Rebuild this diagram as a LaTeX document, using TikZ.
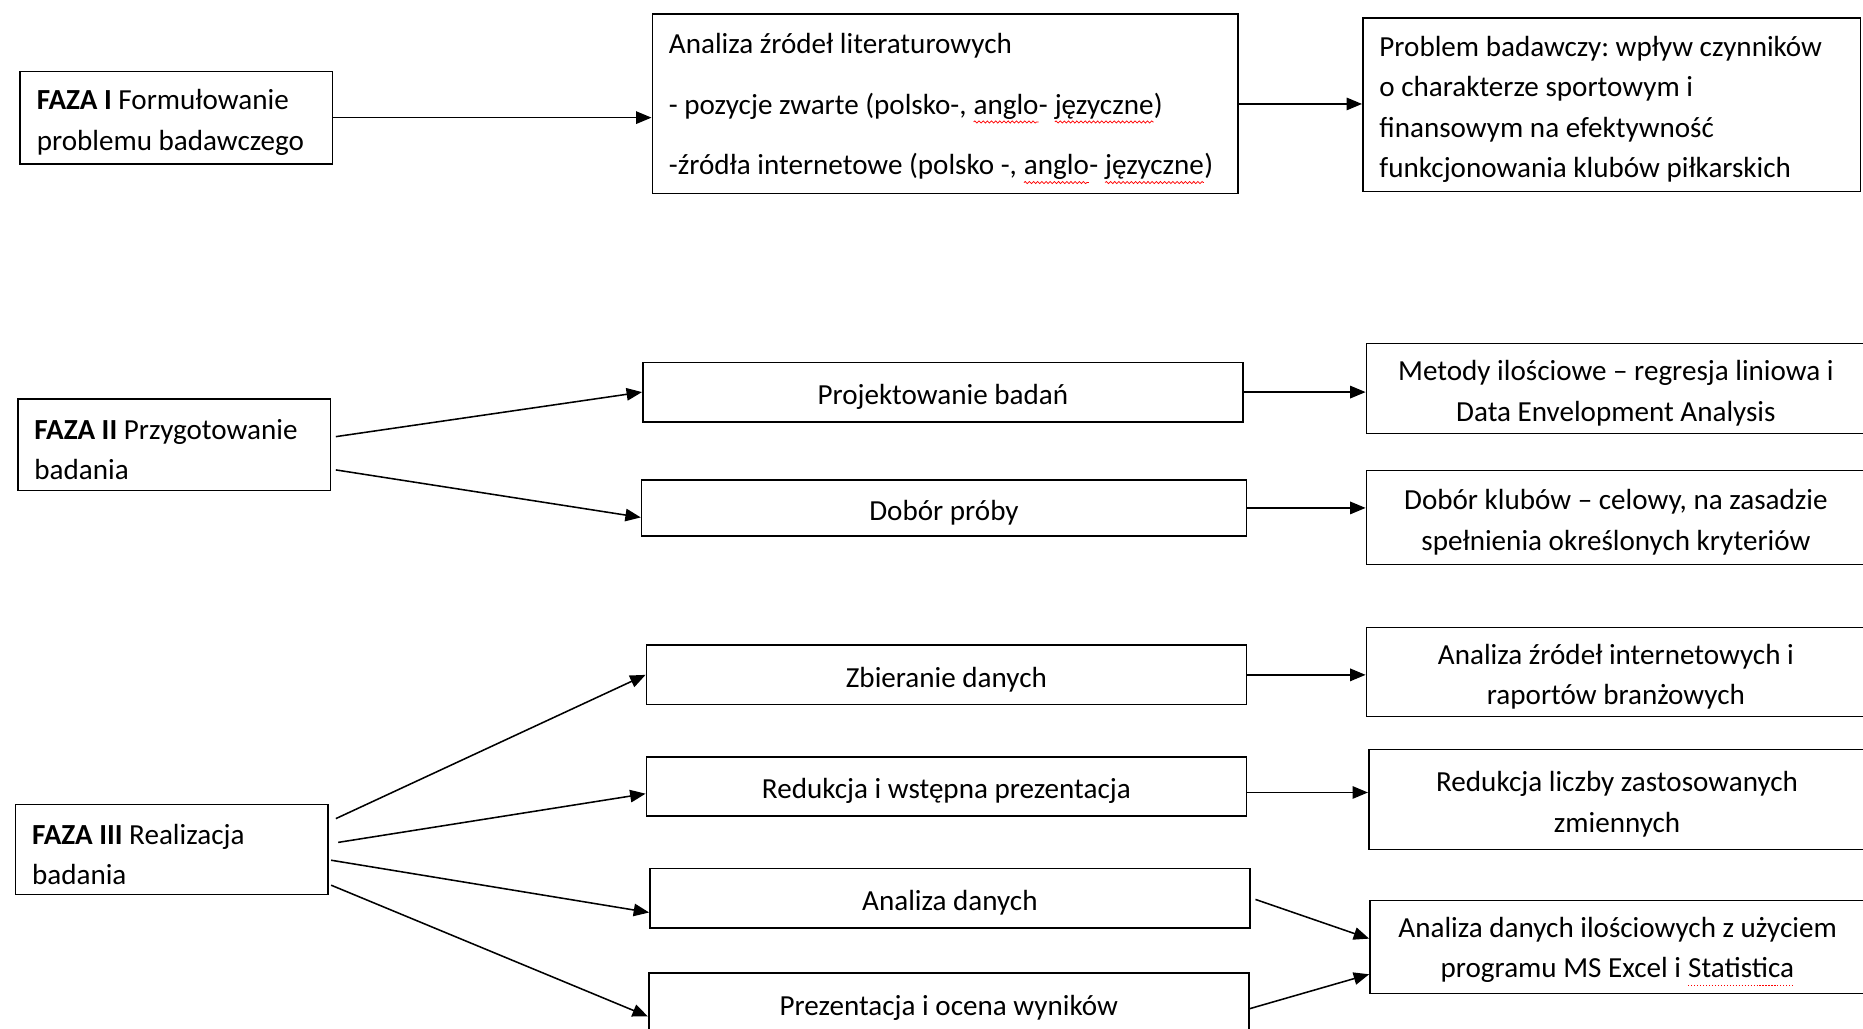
\documentclass[tikz,border=0pt]{standalone}
\usepackage{fontspec}
\setmainfont{Carlito}
\usetikzlibrary{arrows.meta,decorations.pathmorphing}
\frenchspacing
\tikzset{
  box/.style={draw, line width=1.3pt, inner sep=0pt, align=center, font=\fontsize{24.5}{34}\selectfont\frenchspacing},
  lbox/.style={box, align=left, inner xsep=14pt},
  arr/.style={-{Triangle[length=13pt,width=10.5pt]}, line width=1.3pt},
  plainnode/.style={draw=none, inner sep=0pt, outer sep=0pt, minimum width=0pt, minimum height=0pt, text width=, align=left}
}
\newcommand\ts{\spaceskip=0pt\relax\xspaceskip=0pt\relax\rule{0pt}{25pt}}
\newcommand\redwave[1]{\tikz[baseline=(w.base)]{\node[plainnode] (w) {#1};
  \draw[red, line width=0.6pt, decorate, decoration={snake, amplitude=0.9pt, segment length=3.5pt}]
    ([yshift=-6.5pt]w.base west) -- ([yshift=-6.5pt]w.base east);}}
\newcommand\reddots[1]{\tikz[baseline=(w.base)]{\node[plainnode] (w) {#1};
  \draw[red, line width=0.9pt, dash pattern=on 1pt off 1.5pt]
    ([yshift=-6.5pt]w.base west) -- ([yshift=-6.5pt]w.base east);}}
\begin{document}
\begin{tikzpicture}[x=1pt,y=-1pt]
\useasboundingbox (0,0) rectangle (1568,866);
\clip (0,0) rectangle (1568,866);
\fill[white] (0,0) rectangle (1568,866);
% Phase I
\node[lbox, text width=235pt, minimum height=78pt] (f1) at (148.5,99) {\ts\textbf{FAZA I} Formułowanie\\problemu badawczego};
\node[lbox, text width=465pt, minimum height=151pt, font=\fontsize{24.5}{51}\selectfont] (lit) at (795.5,87.5)
  {\ts Analiza źródeł literaturowych\\- pozycje zwarte (polsko-, \redwave{anglo}- \redwave{języczne})\\-źródła internetowe (polsko -, \redwave{anglo}- \redwave{języczne})};
\node[lbox, text width=391pt, minimum height=146pt] (prob) at (1356.5,88)
  {\ts Problem badawczy: wpływ czynników\\o charakterze sportowym i\\finansowym na efektywność\\funkcjonowania klubów piłkarskich};
% Phase II
\node[lbox, text width=235pt, minimum height=77pt] (f2) at (146.5,374.5) {\ts\textbf{FAZA II} Przygotowanie\\badania};
\node[box, minimum width=505pt, minimum height=50pt] (proj) at (793.5,330) {\ts Projektowanie badań};
\node[box, minimum width=509pt, minimum height=47pt] (dob) at (794.5,427.5) {\ts Dobór próby};
\node[box, minimum width=420pt, minimum height=76pt] (met) at (1360,327) {\ts Metody ilościowe – regresja liniowa i\\Data Envelopment Analysis};
\node[box, minimum width=420pt, minimum height=79pt] (klub) at (1360,435.5) {\ts Dobór klubów – celowy, na zasadzie\\spełnienia określonych kryteriów};
% Phase III
\node[lbox, text width=235pt, minimum height=76pt] (f3) at (144.5,715) {\ts\textbf{FAZA III} Realizacja\\badania};
\node[box, minimum width=505pt, minimum height=50pt] (zb) at (796.5,568) {\ts Zbieranie danych};
\node[box, minimum width=505pt, minimum height=50pt] (red) at (796.5,662) {\ts Redukcja i wstępna prezentacja};
\node[box, minimum width=505pt, minimum height=50pt] (ad) at (799.5,756) {\ts Analiza danych};
\node[box, minimum width=505pt, minimum height=51pt] (pr) at (798.5,844.5) {\ts Prezentacja i ocena wyników};
\node[box, minimum width=420pt, minimum height=75pt] (ext) at (1360,565.5) {\ts Analiza źródeł internetowych i\\raportów branżowych};
\node[box, minimum width=418pt, minimum height=84pt] (rl) at (1361,673) {\ts Redukcja liczby zastosowanych\\zmiennych};
\node[box, minimum width=417pt, minimum height=78pt] (adi) at (1361.5,797) {\ts Analiza danych ilościowych z użyciem\\programu MS Excel i \reddots{Statistica}};
% connectors
\draw[arr] (f1.east) -- (f1.east -| lit.west);
\draw[arr] (lit.east) -- (lit.east -| prob.west);
\draw[arr] ([xshift=4pt,yshift=7pt]f2.east) -- (proj.west);
\draw[arr] ([xshift=4pt,yshift=-21pt]f2.east) -- ([yshift=-8pt]dob.west);
\draw[arr] (proj.east) -- (proj.east -| met.west);
\draw[arr] (dob.east) -- (dob.east -| klub.west);
\draw[arr] ([xshift=6pt,yshift=26pt]f3.east) -- (zb.west);
\draw[arr] ([xshift=8pt,yshift=6pt]f3.east) -- ([yshift=-6pt]red.west);
\draw[arr] ([xshift=2pt,yshift=-9pt]f3.east) -- ([yshift=-12pt]ad.west);
\draw[arr] ([xshift=2pt,yshift=-30pt]f3.east) -- ([yshift=-11pt]pr.west);
\draw[arr] (zb.east) -- (zb.east -| ext.west);
\draw[arr] ([yshift=-5pt]red.east) -- ([yshift=-5pt]red.east -| rl.west);
\draw[arr] ([xshift=4pt,yshift=-1pt]ad.east) -- ([yshift=7pt]adi.west);
\draw[arr] ([yshift=-4.5pt]pr.east) -- ([yshift=-23pt]adi.west);
\end{tikzpicture}
\end{document}
